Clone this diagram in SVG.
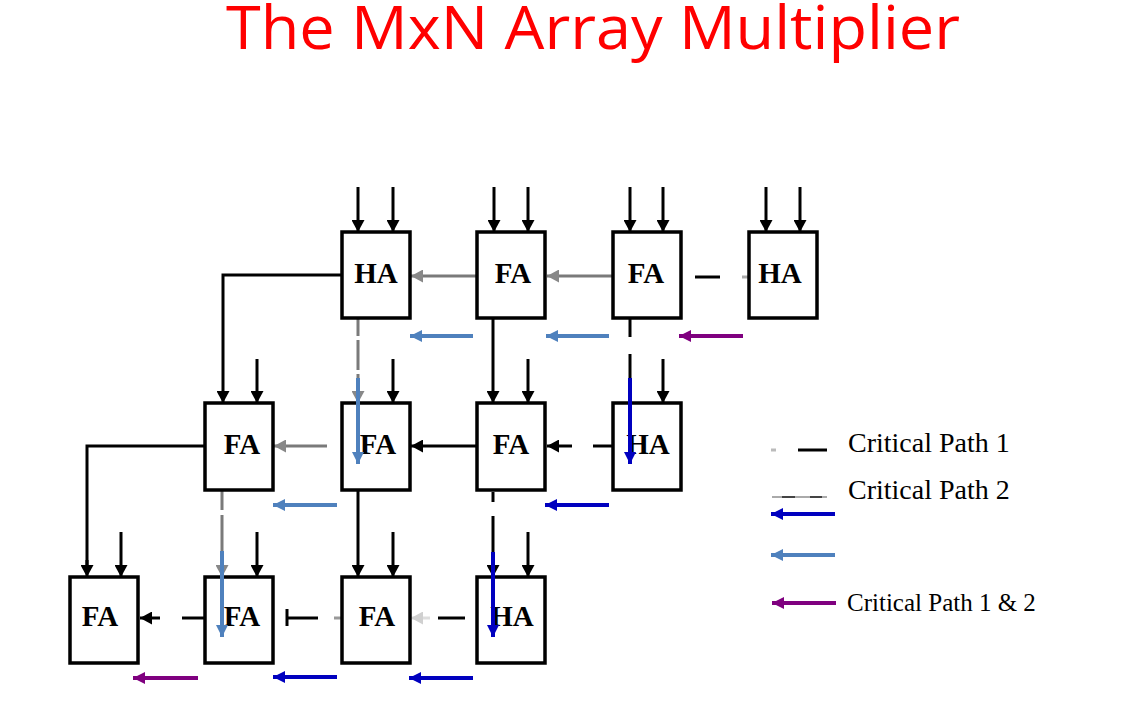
<svg xmlns="http://www.w3.org/2000/svg" width="1134" height="706" viewBox="0 0 1134 706">
<style>
.box{fill:#fff;stroke:#000;stroke-width:3.5}
.lbl{font-family:"Liberation Serif","Times New Roman",serif;font-weight:bold;font-size:29px;text-anchor:middle;fill:#000}
.leg{font-family:"Liberation Serif","Times New Roman",serif;font-size:28px;fill:#000}
.w{fill:none;stroke:#000;stroke-width:3}
.in{fill:none;stroke:#000;stroke-width:3;marker-end:url(#ah)}
.cp2{fill:none;stroke:#7a7a7a;stroke-width:3}
.cp1{fill:none;stroke:#000;stroke-width:3}
.lb{fill:none;stroke:#4F81BD;stroke-width:4;marker-end:url(#hlb)}
.db{fill:none;stroke:#0000BF;stroke-width:4;marker-end:url(#hdb)}
.pu{fill:none;stroke:#7F007F;stroke-width:4;marker-end:url(#hpu)}
</style>
<defs>
<marker id="ah" markerUnits="userSpaceOnUse" markerWidth="12" markerHeight="13" refX="12" refY="6.5" orient="auto"><path d="M0,0 L12,6.5 L0,13 z" fill="#000"/></marker>
<marker id="ahg" markerUnits="userSpaceOnUse" markerWidth="12" markerHeight="13" refX="12" refY="6.5" orient="auto"><path d="M0,0 L12,6.5 L0,13 z" fill="#888"/></marker>
<marker id="ahl" markerUnits="userSpaceOnUse" markerWidth="12" markerHeight="13" refX="12" refY="6.5" orient="auto"><path d="M0,0 L12,6.5 L0,13 z" fill="#d0d0d0"/></marker>
<marker id="hlb" markerUnits="userSpaceOnUse" markerWidth="12" markerHeight="12" refX="12" refY="6" orient="auto"><path d="M0,0 L12,6 L0,12 z" fill="#4F81BD"/></marker>
<marker id="hdb" markerUnits="userSpaceOnUse" markerWidth="12" markerHeight="12" refX="12" refY="6" orient="auto"><path d="M0,0 L12,6 L0,12 z" fill="#0000BF"/></marker>
<marker id="hpu" markerUnits="userSpaceOnUse" markerWidth="12" markerHeight="12" refX="12" refY="6" orient="auto"><path d="M0,0 L12,6 L0,12 z" fill="#7F007F"/></marker>
</defs>
<rect width="1134" height="706" fill="#fff"/>
<text x="226" y="49" font-family="'Open Sans','Noto Sans',sans-serif" font-size="61" fill="#FF0000" textLength="734" lengthAdjust="spacingAndGlyphs">The MxN Array Multiplier</text>

<g id="connectors">
<line class="in" x1="358" y1="187" x2="358" y2="232"/><line class="in" x1="393" y1="187" x2="393" y2="232"/>
<line class="in" x1="494" y1="187" x2="494" y2="232"/><line class="in" x1="528" y1="187" x2="528" y2="232"/>
<line class="in" x1="630" y1="187" x2="630" y2="232"/><line class="in" x1="663" y1="187" x2="663" y2="232"/>
<line class="in" x1="766" y1="187" x2="766" y2="232"/><line class="in" x1="800" y1="187" x2="800" y2="232"/>
<line class="in" x1="257" y1="359" x2="257" y2="403"/>
<line class="in" x1="393" y1="359" x2="393" y2="403"/>
<line class="in" x1="528" y1="359" x2="528" y2="403"/>
<line class="in" x1="663" y1="359" x2="663" y2="403"/>
<line class="in" x1="121" y1="532" x2="121" y2="577"/>
<line class="in" x1="257" y1="532" x2="257" y2="577"/>
<line class="in" x1="393" y1="532" x2="393" y2="577"/>
<line class="in" x1="528" y1="532" x2="528" y2="577"/>

<polyline class="in" points="342,275 223,275 223,403"/>
<line class="cp2" x1="477" y1="276" x2="411" y2="276" marker-end="url(#ahg)"/>
<line class="cp2" x1="613" y1="276" x2="547" y2="276" marker-end="url(#ahg)"/>
<line class="cp1" x1="695" y1="277" x2="720" y2="277"/>
<line x1="742" y1="277" x2="749" y2="277" stroke="#aaa" stroke-width="3"/>

<line class="cp2" x1="358" y1="318" x2="358" y2="403" stroke-dasharray="18,4,30,4" marker-end="url(#ahg)"/>
<line class="in" x1="493" y1="318" x2="493" y2="403"/>
<line class="cp1" x1="630" y1="318" x2="630" y2="337"/>
<line class="cp1" x1="630" y1="354" x2="630" y2="403"/>

<polyline class="w" points="205,446 87,446 87,566"/>
<line class="in" x1="87" y1="560" x2="87" y2="577"/>
<line class="cp2" x1="340" y1="446" x2="274" y2="446" stroke-dasharray="0,13,53" marker-end="url(#ahg)"/>
<line class="in" x1="477" y1="446" x2="411" y2="446"/>
<line class="cp1" x1="572" y1="446" x2="547" y2="446" marker-end="url(#ah)"/>
<line class="cp1" x1="593" y1="446" x2="613" y2="446"/>

<line class="cp2" x1="222" y1="490" x2="222" y2="577" stroke-dasharray="20,5,40,5" marker-end="url(#ahg)"/>
<line class="in" x1="358" y1="490" x2="358" y2="577"/>
<line class="cp1" x1="493" y1="492" x2="493" y2="502"/>
<line class="cp1" x1="493" y1="516" x2="493" y2="577" marker-end="url(#ah)"/>

<line class="cp1" x1="160" y1="618" x2="140" y2="618" marker-end="url(#ah)"/>
<line class="cp1" x1="182" y1="618" x2="205" y2="618"/>
<line class="cp1" x1="287" y1="609" x2="287" y2="626"/>
<line class="cp1" x1="287" y1="618" x2="318" y2="618"/>
<line x1="334" y1="618" x2="342" y2="618" stroke="#999" stroke-width="3"/>
<line x1="430" y1="618" x2="411" y2="618" stroke="#ddd" stroke-width="3" marker-end="url(#ahl)"/>
<line class="cp1" x1="438" y1="618" x2="465" y2="618"/>

<line class="lb" x1="473" y1="336" x2="410" y2="336"/>
<line class="lb" x1="609" y1="336" x2="546" y2="336"/>
<line class="pu" x1="743" y1="336" x2="679" y2="336"/>
<line class="lb" x1="337" y1="505" x2="273" y2="505"/>
<line class="db" x1="609" y1="505" x2="545" y2="505"/>
<line class="pu" x1="198" y1="678" x2="133" y2="678"/>
<line class="db" x1="337" y1="677" x2="273" y2="677"/>
<line class="db" x1="473" y1="678" x2="409" y2="678"/>
</g>

<g id="n-r1c1"><rect class="box" x="342" y="232" width="68" height="86"/><text class="lbl" x="376" y="283">HA</text></g>
<g id="n-r1c2"><rect class="box" x="477" y="232" width="68" height="86"/><text class="lbl" x="513" y="283">FA</text></g>
<g id="n-r1c3"><rect class="box" x="613" y="232" width="68" height="86"/><text class="lbl" x="646" y="283">FA</text></g>
<g id="n-r1c4"><rect class="box" x="749" y="232" width="68" height="86"/><text class="lbl" x="780" y="283">HA</text></g>

<g id="n-r2c1"><rect class="box" x="205" y="403" width="68" height="87"/><text class="lbl" x="242" y="454">FA</text></g>
<g id="n-r2c2"><rect class="box" x="342" y="403" width="68" height="87"/><text class="lbl" x="378" y="454">FA</text></g>
<g id="n-r2c3"><rect class="box" x="477" y="403" width="68" height="87"/><text class="lbl" x="511" y="454">FA</text></g>
<g id="n-r2c4"><rect class="box" x="613" y="403" width="68" height="87"/><text class="lbl" x="648" y="454">HA</text></g>

<g id="n-r3c1"><rect class="box" x="70" y="577" width="68" height="86"/><text class="lbl" x="100" y="626">FA</text></g>
<g id="n-r3c2"><rect class="box" x="205" y="577" width="68" height="86"/><text class="lbl" x="242" y="626">FA</text></g>
<g id="n-r3c3"><rect class="box" x="342" y="577" width="68" height="86"/><text class="lbl" x="377" y="626">FA</text></g>
<g id="n-r3c4"><rect class="box" x="477" y="577" width="68" height="86"/><text class="lbl" x="512" y="626">HA</text></g>

<g id="overlays">
<line class="lb" x1="358" y1="378" x2="358" y2="464"/>
<line class="db" x1="630" y1="378" x2="630" y2="464"/>
<line class="lb" x1="222" y1="551" x2="222" y2="637"/>
<line class="db" x1="493" y1="552" x2="493" y2="637"/>
</g>

<g id="legend">
<line x1="771" y1="450" x2="776" y2="450" stroke="#bbb" stroke-width="3"/>
<line x1="798" y1="450" x2="827" y2="450" stroke="#000" stroke-width="3"/>
<text class="leg" x="848" y="452">Critical Path 1</text>
<line x1="772" y1="497" x2="827" y2="497" stroke="#aaa" stroke-width="2"/>
<line x1="782" y1="497" x2="795" y2="497" stroke="#444" stroke-width="2"/>
<line x1="810" y1="497" x2="822" y2="497" stroke="#444" stroke-width="2"/>
<text class="leg" x="848" y="499">Critical Path 2</text>
<line class="db" x1="835" y1="514" x2="771" y2="514"/>
<line class="lb" x1="835" y1="555" x2="771" y2="555"/>
<line class="pu" x1="836" y1="603" x2="772" y2="603"/>
<text class="leg" x="847" y="611" style="font-size:25px">Critical Path 1 &amp; 2</text>
</g>
</svg>
